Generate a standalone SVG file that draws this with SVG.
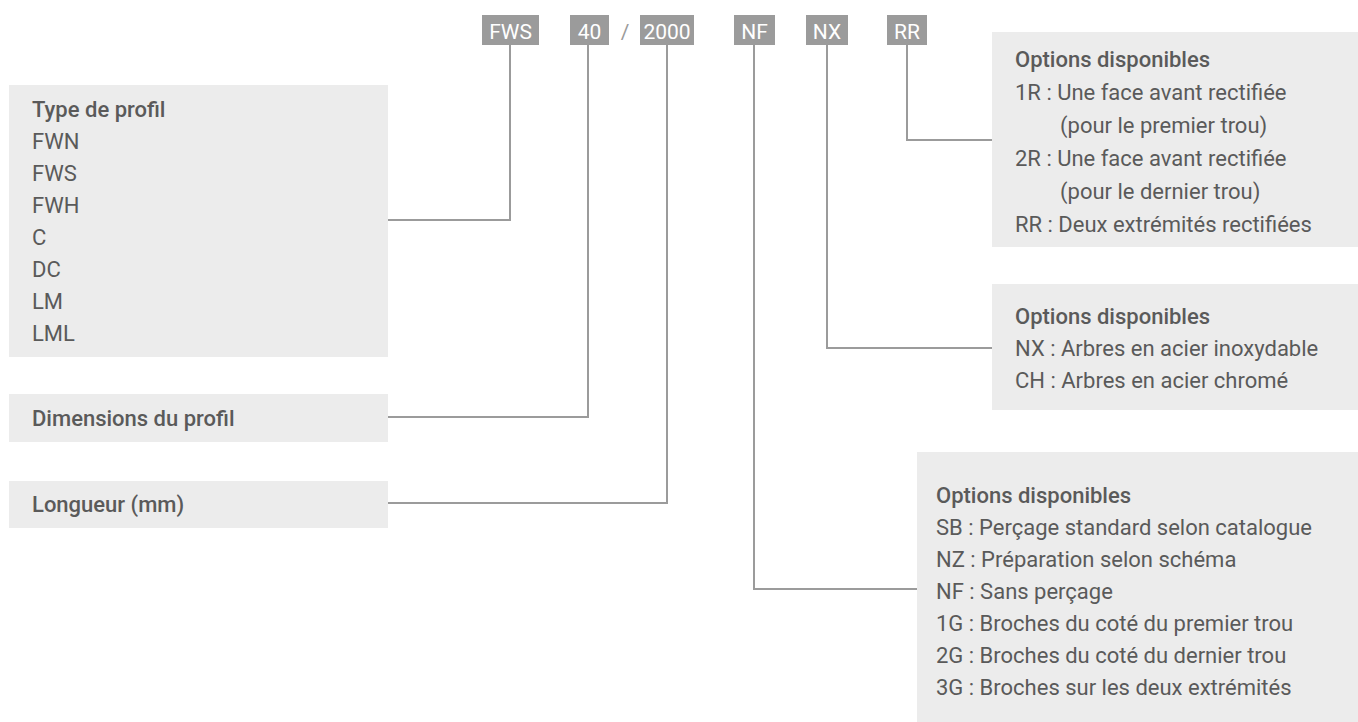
<svg xmlns="http://www.w3.org/2000/svg" width="1358" height="722" viewBox="0 0 1358 722">
<style>
.box{fill:#ececec}
.tag{fill:#9b9b9b}
.tagt{font-family:"Roboto","Liberation Sans",sans-serif;font-size:21px;fill:#ffffff;text-anchor:middle}
.t{font-family:"Roboto","Liberation Sans",sans-serif;font-size:22px;fill:#5a5a5a}
.h{font-weight:500}
.c{fill:none;stroke:#9b9b9b;stroke-width:2}
</style>
<rect width="1358" height="722" fill="#ffffff"/>
<g id="code">
<rect class="tag" x="482" y="15" width="57" height="30"/><text class="tagt" x="510.5" y="38.5">FWS</text>
<rect class="tag" x="570" y="15" width="39" height="30"/><text class="tagt" x="589.5" y="38.5">40</text>
<text class="tagt" x="625" y="38.5" style="fill:#9b9b9b">/</text>
<rect class="tag" x="640" y="15" width="54" height="30"/><text class="tagt" x="667" y="38.5">2000</text>
<rect class="tag" x="734" y="15" width="41" height="30"/><text class="tagt" x="754.5" y="38.5">NF</text>
<rect class="tag" x="806" y="15" width="42" height="30"/><text class="tagt" x="827" y="38.5">NX</text>
<rect class="tag" x="887" y="15" width="40" height="30"/><text class="tagt" x="907" y="38.5">RR</text>
</g>
<g id="connectors">
<polyline class="c" points="388,220 510,220 510,45"/>
<polyline class="c" points="388,417 588,417 588,45"/>
<polyline class="c" points="388,503 667,503 667,45"/>
<polyline class="c" points="907,45 907,140 992,140"/>
<polyline class="c" points="827,45 827,348 992,348"/>
<polyline class="c" points="754,45 754,589 917,589"/>
</g>
<g id="type-profil">
<rect class="box" x="9" y="85" width="379" height="272"/>
<text class="t h" x="32" y="117">Type de profil</text>
<text class="t" x="32" y="149">FWN</text>
<text class="t" x="32" y="181">FWS</text>
<text class="t" x="32" y="213">FWH</text>
<text class="t" x="32" y="245">C</text>
<text class="t" x="32" y="277">DC</text>
<text class="t" x="32" y="309">LM</text>
<text class="t" x="32" y="341">LML</text>
</g>
<g id="dimensions">
<rect class="box" x="9" y="394" width="379" height="48"/>
<text class="t h" x="32" y="426">Dimensions du profil</text>
</g>
<g id="longueur">
<rect class="box" x="9" y="481" width="379" height="47"/>
<text class="t h" x="32" y="512">Longueur (mm)</text>
</g>
<g id="options-rr">
<rect class="box" x="992" y="32" width="366" height="215"/>
<text class="t h" x="1015" y="67">Options disponibles</text>
<text class="t" x="1015" y="100">1R : Une face avant rectifiée</text>
<text class="t" x="1060" y="133">(pour le premier trou)</text>
<text class="t" x="1015" y="166">2R : Une face avant rectifiée</text>
<text class="t" x="1060" y="199">(pour le dernier trou)</text>
<text class="t" x="1015" y="232">RR : Deux extrémités rectifiées</text>
</g>
<g id="options-nx">
<rect class="box" x="992" y="284" width="366" height="126"/>
<text class="t h" x="1015" y="324">Options disponibles</text>
<text class="t" x="1015" y="356">NX : Arbres en acier inoxydable</text>
<text class="t" x="1015" y="388">CH : Arbres en acier chromé</text>
</g>
<g id="options-nf">
<rect class="box" x="917" y="452" width="441" height="270"/>
<text class="t h" x="936" y="503">Options disponibles</text>
<text class="t" x="936" y="535">SB : Perçage standard selon catalogue</text>
<text class="t" x="936" y="567">NZ : Préparation selon schéma</text>
<text class="t" x="936" y="599">NF : Sans perçage</text>
<text class="t" x="936" y="631">1G : Broches du coté du premier trou</text>
<text class="t" x="936" y="663">2G : Broches du coté du dernier trou</text>
<text class="t" x="936" y="695">3G : Broches sur les deux extrémités</text>
</g>
</svg>
